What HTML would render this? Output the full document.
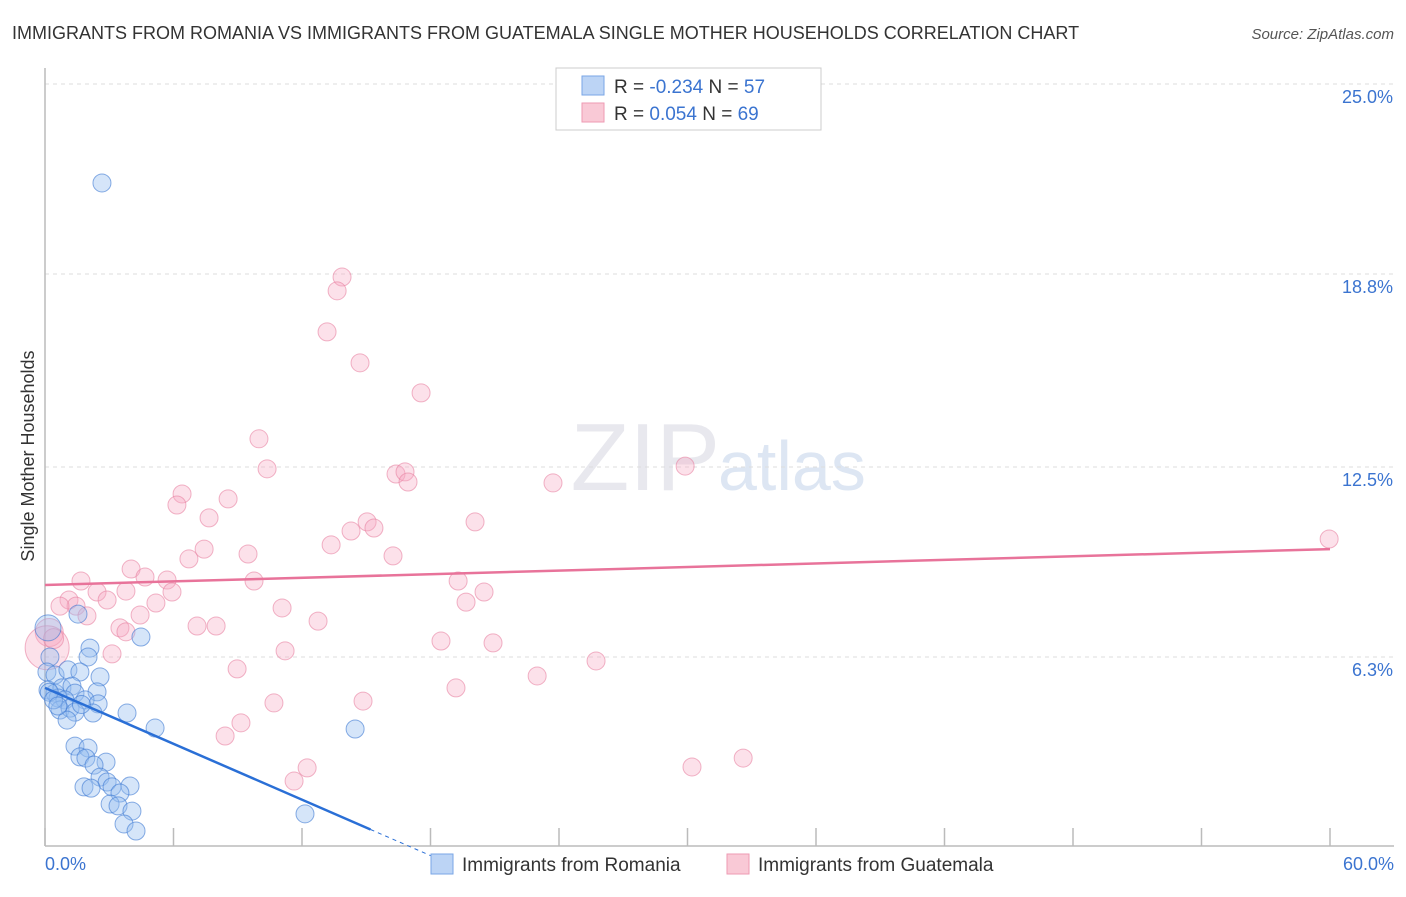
<!DOCTYPE html>
<html><head><meta charset="utf-8"><style>
body{margin:0;background:#fff;font-family:"Liberation Sans",sans-serif;}
svg text{font-family:"Liberation Sans",sans-serif;}
</style></head><body>
<svg id="chart" width="1406" height="892" xmlns="http://www.w3.org/2000/svg">
<text x="12" y="39" font-size="18" fill="#333">IMMIGRANTS FROM ROMANIA VS IMMIGRANTS FROM GUATEMALA SINGLE MOTHER HOUSEHOLDS CORRELATION CHART</text>
<text x="1394" y="39" font-size="15" fill="#555" text-anchor="end" font-style="italic">Source: ZipAtlas.com</text>
<text x="720" y="490" font-size="96" fill="#e8e8ee" text-anchor="end" font-family="Liberation Serif">ZIP</text>
<text x="718" y="490" font-size="70" fill="#dde6f3">atlas</text>
<g id="grid"></g>
<g id="axes"></g>
<g id="pink"></g>
<g id="blue"></g>
<g id="trends"></g>
<text transform="translate(34,456) rotate(-90)" font-size="18" fill="#333" text-anchor="middle">Single Mother Households</text>
<text x="45" y="870" font-size="18" fill="#3b74d0">0.0%</text>
<text x="1394" y="870" font-size="18" fill="#3b74d0" text-anchor="end">60.0%</text>
<g>
<rect x="556" y="68" width="265" height="62" fill="#fff" stroke="#ccc"/>
<rect x="582" y="76" width="22" height="19" fill="#bcd4f5" stroke="#7aa6e6"/>
<rect x="582" y="103" width="22" height="19" fill="#f9c9d6" stroke="#ee9ab3"/>
<text x="614" y="93" font-size="19" fill="#333">R = <tspan fill="#3b74d0">-0.234</tspan>   N = <tspan fill="#3b74d0">57</tspan></text>
<text x="614" y="120" font-size="19" fill="#333">R =  <tspan fill="#3b74d0">0.054</tspan>   N = <tspan fill="#3b74d0">69</tspan></text>
</g>
<g>
<rect x="431" y="854" width="22" height="20" fill="#bcd4f5" stroke="#7aa6e6"/>
<text x="462" y="871" font-size="19" fill="#333">Immigrants from Romania</text>
<rect x="727" y="854" width="22" height="20" fill="#f9c9d6" stroke="#ee9ab3"/>
<text x="758" y="871" font-size="19" fill="#333">Immigrants from Guatemala</text>
</g>
</svg>
<script>
const yTicks=[25.0,18.8,12.5,6.3];
const yTickLabels=["25.0%","18.8%","12.5%","6.3%"];
const xTicks=[0,6,12,18,24,30,36,42,48,54,60];
const romaniaX=[2.66,4.48,0.14,0.23,2.10,2.01,1.54,0.09,0.47,1.07,1.63,2.57,0.14,0.47,0.79,1.26,1.40,2.43,0.61,0.93,1.87,2.48,0.70,1.17,1.40,2.24,1.03,3.83,5.14,14.48,1.40,2.01,1.63,1.91,2.85,2.29,2.57,2.90,3.97,1.82,2.15,3.13,3.50,3.04,3.41,4.06,3.69,4.25,12.14,0.2,0.4,0.6,1.7];
const romaniaY=[21.77,6.95,7.25,6.30,6.59,6.30,7.70,5.81,5.71,5.88,5.81,5.65,5.22,5.12,5.29,5.35,5.12,5.16,4.96,4.90,4.90,4.77,4.57,4.63,4.50,4.47,4.24,4.47,3.98,3.95,3.39,3.33,3.04,3.00,2.87,2.77,2.38,2.22,2.09,2.06,2.02,2.06,1.86,1.50,1.44,1.27,0.85,0.62,1.18,5.15,4.9,4.7,4.75];
const guatemalaX=[13.87,13.64,13.17,14.71,17.56,9.99,29.89,10.37,16.39,16.81,16.95,23.72,6.40,8.55,6.16,7.66,20.08,15.04,14.29,15.36,13.36,7.43,9.48,6.72,16.25,4.02,4.67,5.70,1.68,9.76,19.29,5.93,2.43,3.78,20.50,1.12,2.90,19.66,5.18,1.45,0.70,11.07,4.44,1.96,12.75,7.10,7.99,3.50,3.78,18.49,20.92,3.13,11.21,25.73,8.97,22.98,19.19,14.85,10.69,9.15,8.41,12.24,11.63,30.21,32.60,59.96,0.2,0.1,0.4];
const guatemalaY=[18.70,18.25,16.91,15.90,14.92,13.42,12.53,12.44,12.27,12.34,12.01,11.98,11.62,11.46,11.26,10.84,10.71,10.71,10.41,10.51,9.96,9.82,9.66,9.50,9.60,9.17,8.91,8.81,8.78,8.78,8.78,8.42,8.42,8.45,8.42,8.16,8.16,8.09,8.06,7.96,7.96,7.90,7.67,7.64,7.47,7.31,7.31,7.25,7.12,6.82,6.76,6.40,6.50,6.17,5.91,5.68,5.29,4.86,4.80,4.15,3.72,2.68,2.25,2.71,3.00,10.15,7.1,6.6,6.9];
const romaniaTrend=[5.29,-0.304];
const guatemalaTrend=[8.65,0.0195];
const NS="http://www.w3.org/2000/svg";
const X=v=>45+v/60*1285;
const Y=v=>850-v/6.25*191.5;
function mk(tag,attrs,parent){const e=document.createElementNS(NS,tag);for(const k in attrs)e.setAttribute(k,attrs[k]);document.getElementById(parent).appendChild(e);return e;}
yTicks.forEach((t,i)=>{
 const l=mk('line',{x1:45,x2:1394,y1:Y(t),y2:Y(t),stroke:'#ddd','stroke-dasharray':'4,4'},'grid');
 
 
 const tx=mk('text',{x:1393,y:Y(t)+19,'font-size':18,fill:'#3b74d0','text-anchor':'end'},'grid');
 tx.textContent=yTickLabels[i];
 
 
});
const ax=mk('line',{x1:45,x2:45,y1:68,y2:846,stroke:'#bbb','stroke-width':1.5},'axes');


const bx=mk('line',{x1:45,x2:1394,y1:846,y2:846,stroke:'#bbb','stroke-width':1.5},'axes');


xTicks.forEach(t=>{
 const l=mk('line',{x1:X(t),x2:X(t),y1:828,y2:846,stroke:'#bbb','stroke-width':1.5},'axes');
 
 
});
guatemalaX.forEach((x,i)=>{
 const c=mk('circle',{cx:X(x),cy:Y(guatemalaY[i]),r:i>=66?(i==66?14:(i==67?22:10)):9,fill:'rgba(246,170,194,0.35)',stroke:'rgba(232,130,162,0.6)','stroke-width':1},'pink');
 
 
});
romaniaX.forEach((x,i)=>{
 const c=mk('circle',{cx:X(x),cy:Y(romaniaY[i]),r:i==2?13:9,fill:'rgba(150,190,240,0.4)',stroke:'rgba(60,120,210,0.6)','stroke-width':1},'blue');
 
 
});
const f=(t,x)=>t[0]+t[1]*x;
const bt=mk('line',{x1:X(0),y1:Y(f(romaniaTrend,0)),x2:X(15.2),y2:Y(f(romaniaTrend,15.2)),stroke:'#2a6fd6','stroke-width':2.5},'trends');


const bd=mk('line',{x1:X(15.2),y1:Y(f(romaniaTrend,15.2)),x2:X(18),y2:Y(f(romaniaTrend,18)),stroke:'#2a6fd6','stroke-width':1,'stroke-dasharray':'4,4'},'trends');


const pt=mk('line',{x1:X(0),y1:Y(f(guatemalaTrend,0)),x2:X(60),y2:Y(f(guatemalaTrend,60)),stroke:'#e8739a','stroke-width':2.5},'trends');


</script>
</body></html>
